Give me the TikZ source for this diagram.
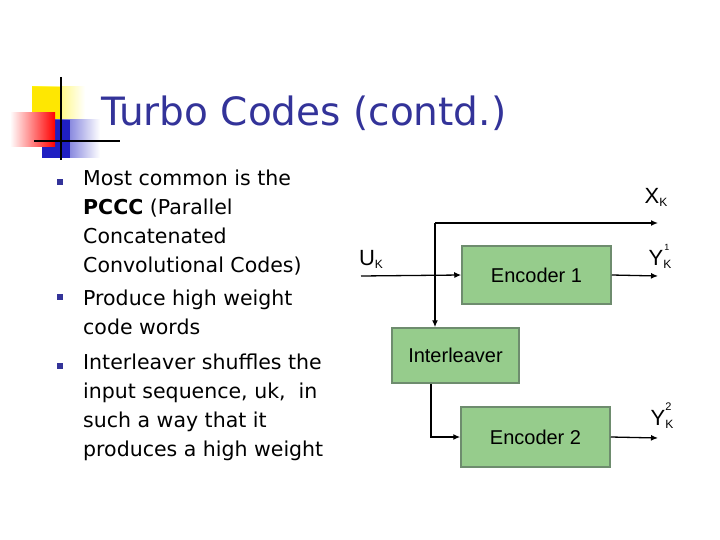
\documentclass[tikz,border=0pt]{standalone}
\usepackage{fontspec}
\usetikzlibrary{arrows.meta}
\setmainfont{DejaVu Sans}
\newfontfamily\diag{Liberation Sans}
\definecolor{navy}{RGB}{51,51,153}
\definecolor{boxg}{RGB}{150,204,140}
\definecolor{boxb}{RGB}{110,140,110}
\begin{document}
\begin{tikzpicture}[x=1pt,y=-1pt,
  blk/.style={draw=boxb,line width=1.5pt,fill=boxg,inner sep=0pt,font=\diag\fontsize{20}{20}\selectfont},
  wire/.style={line width=1.3pt,-{Latex[length=7pt,width=6pt]}},
  bul/.style={fill=navy,minimum size=6pt,inner sep=0pt},
  txt/.style={anchor=north west,font=\fontsize{20.5}{29}\selectfont,align=left,inner sep=0pt},
  lab/.style={font=\diag\fontsize{22}{22}\selectfont}]
\useasboundingbox (0,0) rectangle (720,540);
% logo
\shade[left color=yellow!90!orange,right color=white] (32,87) rectangle (85,121);
\fill[yellow!90!orange] (32,87) rectangle (60,121);
\shade[left color=navy!60!blue,right color=white] (42,120) rectangle (100,158);
\fill[navy!60!blue] (42,120) rectangle (70,158);
\shade[left color=white,right color=red] (10,113) rectangle (55,147);
\draw[line width=1.5pt] (61,77) -- (61,160);
\draw[line width=1.5pt] (34,141) -- (120,141);
\node[anchor=base west,text=navy,font=\fontsize{39}{39}\selectfont,inner sep=0pt] (title) at (101,126) {Turbo Codes (contd.)};
% bullets
\node[bul] (b1) at (60,182) {};
\node[bul] (b2) at (60,297) {};
\node[bul] (b3) at (60,366) {};
\node[txt] (t1) at (83,170) {Most common is the\\\textbf{PCCC} (Parallel\\Concatenated\\Convolutional Codes)};
\node[txt] (t2) at (83,290) {Produce high weight\\code words};
\node[txt] (t3) at (83,354) {Interleaver shuffles the\\input sequence, uk,\ \ in\\such a way that it\\produces a high weight};
% diagram
\node[blk,minimum width=149pt,minimum height=58pt] (e1) at (536.5,275) {Encoder 1};
\node[blk,minimum width=127pt,minimum height=55pt] (il) at (455.5,355.5) {Interleaver};
\node[blk,minimum width=149pt,minimum height=60pt] (e2) at (535.5,437) {Encoder 2};
\coordinate (in) at (361,276);
\coordinate (xs) at (435,223);
\coordinate (xo) at (658,223);
\coordinate (y1) at (658,276);
\coordinate (y2) at (658,438);
\draw[wire] (in) -- (e1.west);
\draw[wire] (xs) -- (xo);
\draw[wire] (xs) -- (xs |- il.north);
\draw[wire] (il.south -| 431,0) |- (e2.west);
\draw[wire] (e1.east) -- (y1);
\draw[wire] (e2.east) -- (y2);
\node[lab] (lu) at (371,259) {U\raisebox{-3pt}{\fontsize{12}{12}\selectfont K}};
\node[lab] (lx) at (656,197) {X\raisebox{-3pt}{\fontsize{12}{12}\selectfont K}};
\node[lab] (ly1) at (659,256) {Y\raisebox{-3pt}{\fontsize{12}{12}\selectfont K}\kern-7pt\raisebox{15pt}{\fontsize{9}{9}\selectfont 1}};
\node[lab] (ly2) at (661,416) {Y\raisebox{-3pt}{\fontsize{12}{12}\selectfont K}\kern-8pt\raisebox{15pt}{\fontsize{11}{11}\selectfont 2}};
\end{tikzpicture}
\end{document}
